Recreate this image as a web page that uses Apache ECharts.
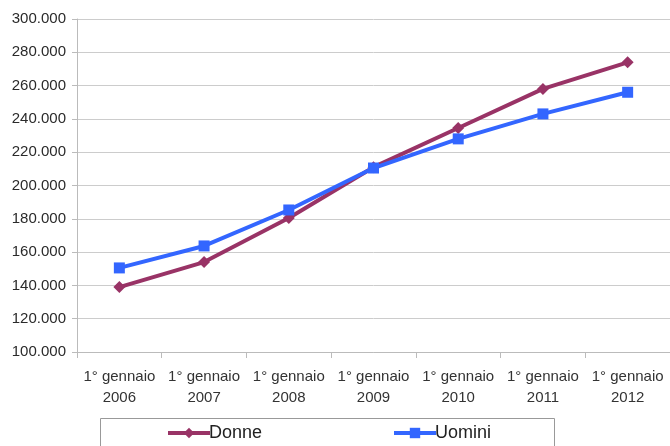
<!DOCTYPE html>
<html><head><meta charset="utf-8">
<script src="https://cdn.jsdelivr.net/npm/echarts@6/dist/echarts.min.js"></script>
<style>html,body{margin:0;padding:0;background:#fff}#c{width:670px;height:446px}</style>
</head><body><div id="c"></div>
<script>
var categories = ['1° gennaio\n2006','1° gennaio\n2007','1° gennaio\n2008','1° gennaio\n2009','1° gennaio\n2010','1° gennaio\n2011','1° gennaio\n2012'];
var donne = [139000, 154000, 180500, 211000, 234500, 258000, 274000];
var uomini = [150500, 163700, 185300, 210500, 228000, 243000, 256000];
var yTicks = [100000, 120000, 140000, 160000, 180000, 200000, 220000, 240000, 260000, 280000, 300000];

var chart = echarts.init(document.getElementById('c'));
var font = 'Liberation Sans, Arial, Helvetica, sans-serif';
chart.setOption({
  animation: false,
  grid: {left: 77, right: 0, top: 19, bottom: 94},
  graphic: [{type: 'rect', shape: {x: 100.5, y: 418.5, width: 454, height: 40}, style: {fill: 'none', stroke: '#999', lineWidth: 1}}],
  legend: [
    {data: ['Donne'], left: 166, top: 424, itemWidth: 42, itemHeight: 13, padding: 0,
     lineStyle: {width: 4}, itemStyle: {},
     textStyle: {fontSize: 18, color: '#222', fontFamily: font, padding: [0,0,0,-6]}},
    {data: ['Uomini'], left: 392, top: 424, itemWidth: 42, itemHeight: 13, padding: 0,
     lineStyle: {width: 4},
     textStyle: {fontSize: 18, color: '#222', fontFamily: font, padding: [0,0,0,-6]}}
  ],
  xAxis: {
    type: 'category', data: categories, boundaryGap: true,
    axisLine: {lineStyle: {color: '#bbb'}},
    axisTick: {show: true, length: 6, lineStyle: {color: '#bbb'}},
    axisLabel: {fontSize: 15, color: '#333', fontFamily: font, lineHeight: 21, margin: 14, interval: 0}
  },
  yAxis: {
    type: 'value', min: 100000, max: 300000, interval: 20000,
    axisLine: {show: true, lineStyle: {color: '#bbb'}},
    axisTick: {show: true, length: 5, lineStyle: {color: '#bbb'}},
    splitLine: {lineStyle: {color: '#ccc'}},
    axisLabel: {fontSize: 15, color: '#2a2a2a', fontFamily: font, margin: 11,
      formatter: function(v){ return (v/1000).toFixed(0) + '.000'; }}
  },
  series: [
    {name: 'Donne', type: 'line', data: donne, symbol: 'diamond', symbolSize: 12,
     lineStyle: {width: 4, color: '#993366'}, itemStyle: {color: '#993366'}},
    {name: 'Uomini', type: 'line', data: uomini, symbol: 'rect', symbolSize: 11,
     lineStyle: {width: 4, color: '#3366FF'}, itemStyle: {color: '#3366FF'}}
  ]
});
</script></body></html>
